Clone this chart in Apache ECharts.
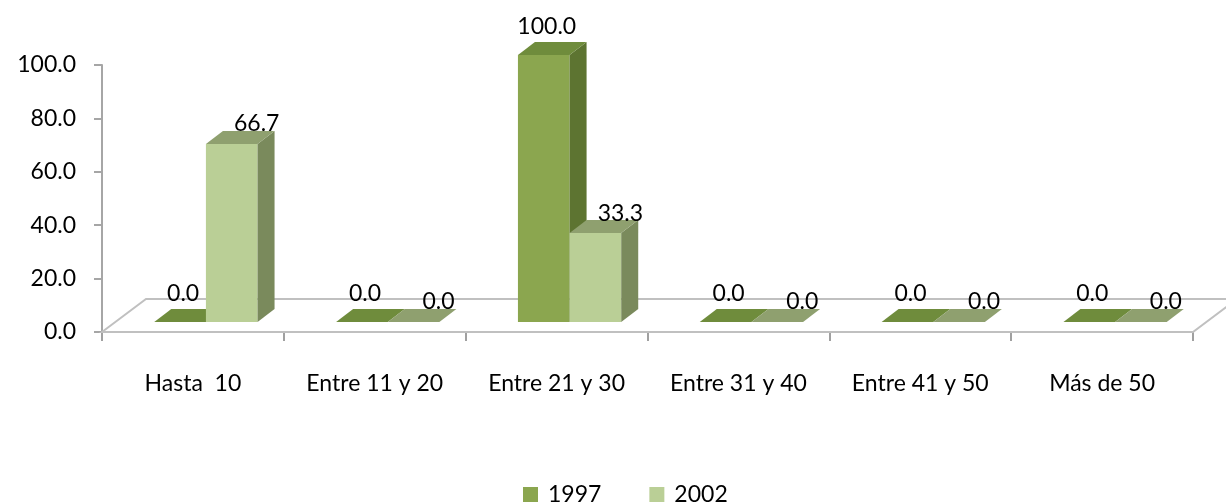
<!DOCTYPE html>
<html>
<head>
<meta charset="utf-8">
<title>Distribución por tamaño</title>
<script src="https://cdn.jsdelivr.net/npm/echarts@6/dist/echarts.min.js"></script>
<style>
  html, body { margin: 0; padding: 0; background: #ffffff; }
  #chart { width: 1226px; height: 503px; }
</style>
</head>
<body>
<div id="chart"></div>
<script>
// Categories and values per year (percent)
const categories = ['Hasta  10', 'Entre 11 y 20', 'Entre 21 y 30', 'Entre 31 y 40', 'Entre 41 y 50', 'Más de 50'];
const years = ['1997', '2002'];
const values1997 = [0.0, 0.0, 100.0, 0.0, 0.0, 0.0];
const values2002 = [66.7, 0.0, 33.3, 0.0, 0.0, 0.0];
const yTickValues = [0, 20, 40, 60, 80, 100];

// Pseudo-3D geometry (pixels)
const FLOOR_DEPTH = [44, -33];   // floor receding offset
const BAR_SHIFT = [13, -10];     // bars sit partway into the floor
const BAR_THICK = [17, -13];     // bar depth offset
const BAR_RATIO = 0.284;         // bar width relative to category band
const FONT = 'Lato, "Open Sans", sans-serif';
const FONT_SIZE = 23;

const palettes = {
  '1997': { front: '#8ba64f', side: '#5d7431', top: '#6f8c3c' },
  '2002': { front: '#bacf96', side: '#7a8a5c', top: '#8fa06f' }
};

function makeBarRenderer(slot, pal, labelDx, labelDy) {
  return function (params, api) {
    const idx = api.value(0);
    const val = api.value(1);
    const base = api.coord([idx, 0]);
    const top = api.coord([idx, val]);
    const band = api.size([1, 0])[0];
    const w = band * BAR_RATIO;
    const x0 = base[0] + (slot - 1) * w + BAR_SHIFT[0];
    const x1 = x0 + w;
    const yb = base[1] + BAR_SHIFT[1];
    const yt = top[1] + BAR_SHIFT[1];
    const dx = BAR_THICK[0], dy = BAR_THICK[1];
    const children = [];
    if (yb - yt > 0.5) {
      children.push({
        type: 'rect',
        shape: { x: x0, y: yt, width: w, height: yb - yt },
        style: { fill: pal.front }
      });
      children.push({
        type: 'polygon',
        shape: { points: [[x1, yt], [x1 + dx, yt + dy], [x1 + dx, yb + dy], [x1, yb]] },
        style: { fill: pal.side }
      });
    }
    children.push({
      type: 'polygon',
      shape: { points: [[x0, yt], [x0 + dx, yt + dy], [x1 + dx, yt + dy], [x1, yt]] },
      style: { fill: pal.top }
    });
    children.push({
      type: 'text',
      style: {
        text: val.toFixed(1),
        x: (x0 + x1) / 2 + labelDx,
        y: yt + labelDy,
        fill: '#000000',
        font: FONT_SIZE + 'px ' + FONT,
        align: 'center',
        verticalAlign: 'middle'
      },
      z2: 10
    });
    return { type: 'group', children: children };
  };
}

function renderFloor(params, api) {
  const cs = params.coordSys;
  const l = cs.x, r = cs.x + cs.width, b = cs.y + cs.height;
  const fx = FLOOR_DEPTH[0], fy = FLOOR_DEPTH[1];
  return {
    type: 'polygon',
    shape: { points: [[l, b], [l + fx, b + fy], [r + fx, b + fy], [r, b]] },
    style: { fill: '#ffffff', stroke: '#c0c0c0', lineWidth: 2 }
  };
}

const chart = echarts.init(document.getElementById('chart'));

chart.setOption({
  backgroundColor: '#ffffff',
  animation: false,
  textStyle: { fontFamily: FONT },
  grid: { left: 102, right: 33, top: 65, bottom: 171, containLabel: false },
  legend: {
    data: years,
    left: 518,
    top: 478,
    icon: 'rect',
    itemWidth: 15,
    itemHeight: 15,
    itemGap: 48,
    textStyle: { fontSize: FONT_SIZE, color: '#000000', fontFamily: FONT, padding: [0, 0, 0, 5] }
  },
  xAxis: {
    type: 'category',
    data: categories,
    axisLine: { lineStyle: { color: '#b4b4b4', width: 2 } },
    axisTick: { show: true, length: 9, lineStyle: { color: '#a0a0a0', width: 2 } },
    axisLabel: { margin: 40, fontSize: FONT_SIZE, color: '#000000', fontFamily: FONT },
    splitLine: { show: false }
  },
  yAxis: {
    type: 'value',
    min: yTickValues[0],
    max: yTickValues[yTickValues.length - 1],
    interval: yTickValues[1] - yTickValues[0],
    axisLine: { show: true, lineStyle: { color: '#a6a6a6', width: 2 } },
    axisTick: { show: true, length: 8, lineStyle: { color: '#a6a6a6', width: 2 } },
    axisLabel: {
      margin: 26,
      fontSize: FONT_SIZE,
      color: '#000000',
      fontFamily: FONT,
      formatter: function (v) { return v.toFixed(1); }
    },
    splitLine: { show: false }
  },
  series: [
    {
      name: 'floor',
      type: 'custom',
      renderItem: renderFloor,
      data: [[0, 0]],
      clip: false,
      silent: true,
      z: 1
    },
    {
      name: '1997',
      type: 'custom',
      itemStyle: { color: palettes['1997'].front },
      renderItem: makeBarRenderer(0, palettes['1997'], 3, -28),
      data: values1997.map(function (v, i) { return [i, v]; }),
      clip: false,
      z: 2
    },
    {
      name: '2002',
      type: 'custom',
      itemStyle: { color: palettes['2002'].front },
      renderItem: makeBarRenderer(1, palettes['2002'], 25, -20),
      data: values2002.map(function (v, i) { return [i, v]; }),
      clip: false,
      z: 3
    }
  ]
});
</script>
</body>
</html>
